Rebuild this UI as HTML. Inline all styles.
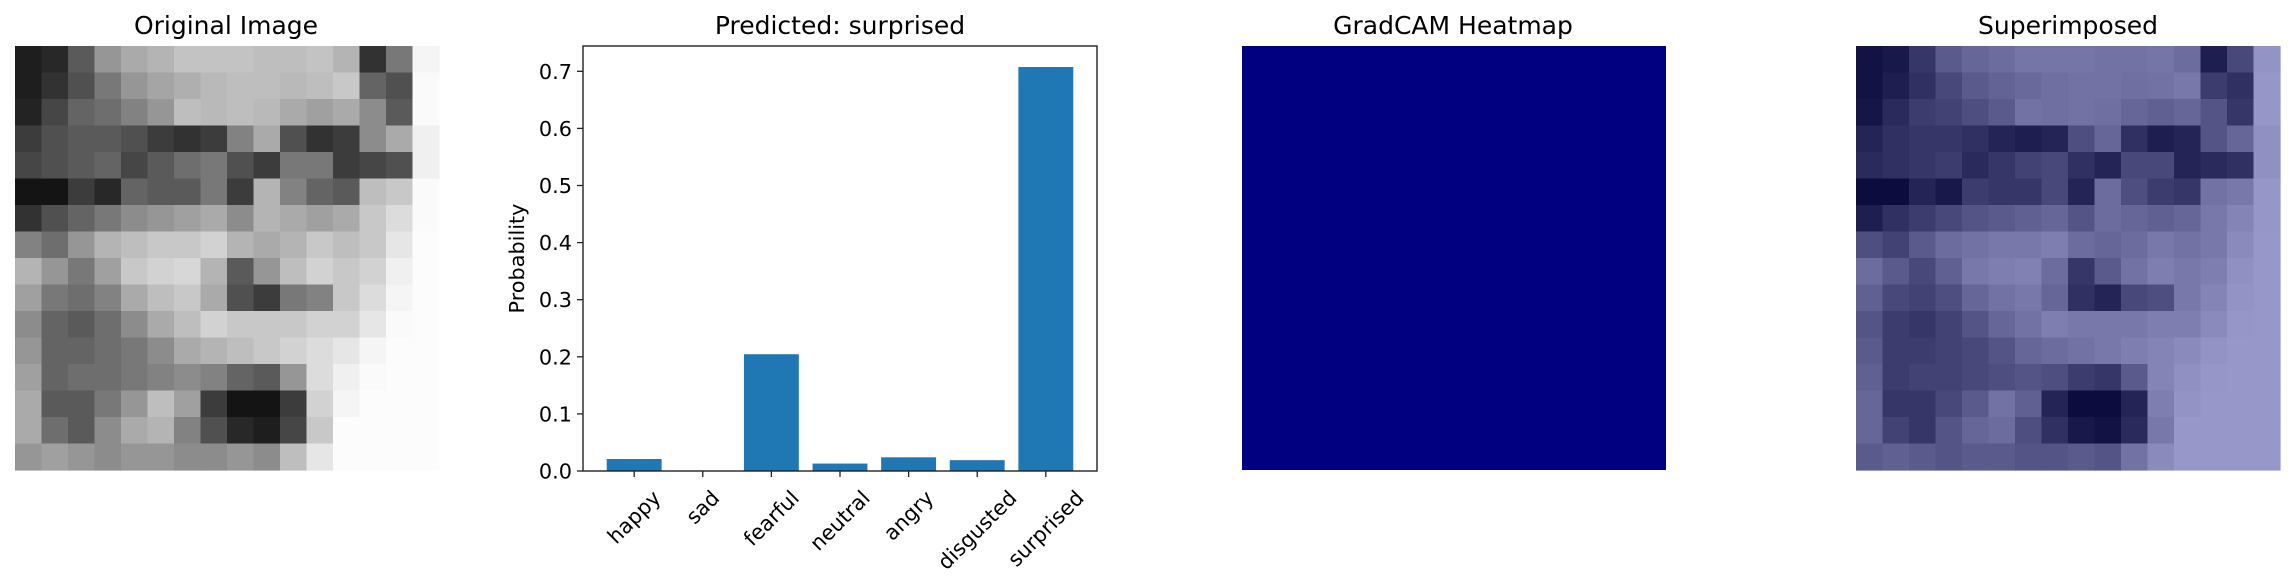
<!DOCTYPE html>
<html><head><meta charset="utf-8"><style>
body{margin:0;background:#fff;}
svg{display:block;font-family:"DejaVu Sans","Liberation Sans",sans-serif;}
</style></head><body>
<svg id="fig" width="2294" height="585" viewBox="0 0 2294 585" xmlns="http://www.w3.org/2000/svg">
<rect width="2294" height="585" fill="#fff"/>
<text x="226" y="34" font-size="25" text-anchor="middle">Original Image</text>
<g id="orig"></g>
<text x="840" y="34" font-size="25" text-anchor="middle">Predicted: surprised</text>
<g id="chart"></g>
<text x="1453" y="34" font-size="25" text-anchor="middle">GradCAM Heatmap</text>
<rect x="1242" y="46" width="424" height="424" fill="#000080"/>
<text x="2068" y="34" font-size="25" text-anchor="middle">Superimposed</text>
<g id="sup"></g>
</svg>
<script>
const categories = ["happy","sad","fearful","neutral","angry","disgusted","surprised"];
const probabilities = [0.021, 0.0003, 0.2045, 0.013, 0.024, 0.019, 0.7075];
const yTicks = [0,0.1,0.2,0.3,0.4,0.5,0.6,0.7];
const yTickLabels = ["0.0","0.1","0.2","0.3","0.4","0.5","0.6","0.7"];
const face = [
[30,40,90,150,170,180,195,195,195,190,190,195,180,50,120,245],
[30,50,80,120,150,165,175,185,190,190,185,190,200,100,80,250],
[35,70,100,110,130,150,190,185,190,185,170,160,170,140,90,250],
[60,80,90,90,80,60,50,60,130,170,80,50,60,140,170,240],
[70,80,90,100,70,90,110,120,80,60,120,120,60,70,80,240],
[20,20,60,40,100,90,90,120,60,180,130,100,90,190,200,250],
[50,80,100,120,140,150,160,170,140,180,170,160,170,200,220,250],
[130,110,150,180,190,200,200,210,180,170,180,200,190,200,230,252],
[180,150,120,160,200,210,215,180,90,150,190,210,200,210,240,252],
[160,120,110,130,170,190,200,170,80,60,120,130,200,220,245,252],
[140,100,90,110,140,170,190,210,200,200,200,210,210,230,250,252],
[150,100,100,110,120,140,170,180,190,200,210,220,230,245,252,252],
[160,100,110,110,120,130,140,130,100,90,150,220,240,250,252,252],
[170,90,90,120,150,190,160,60,20,20,60,210,245,252,252,252],
[170,110,90,140,170,180,130,80,40,30,70,200,252,252,252,252],
[150,160,150,140,150,150,140,140,150,140,190,230,252,252,252,252]
];
const NS="http://www.w3.org/2000/svg";
function mk(tag,attrs,parent){const e=document.createElementNS(NS,tag);for(const k in attrs)e.setAttribute(k,attrs[k]);parent.appendChild(e);return e;}
function drawFace(g,x0,y0,size,tint){
  const n=face.length,c=size/n;
  face.forEach((row,r)=>row.forEach((v,col)=>{
    let R=v,G=v,B=v;
    if(tint){R=Math.round(v*0.6);G=Math.round(v*0.6);B=Math.round(v*0.6+128*0.4);}
    const e=mk('rect',{x:x0+col*c,y:y0+r*c,width:c+0.6,height:c+0.6,fill:`rgb(${R},${G},${B})`},g);
    
    
  }));
}
drawFace(document.getElementById('orig'),15,46,424,false);
drawFace(document.getElementById('sup'),1856,46,424,true);

const g=document.getElementById('chart');
const L=583,R=1097,T=46,B=471;
const xmin=-0.746,xmax=6.746,ymax=(B-T)/571;
const xs=i=>L+(i-xmin)/(xmax-xmin)*(R-L);
const ys=v=>B-v/ymax*(B-T);
const bw=0.8*(R-L)/(xmax-xmin);
probabilities.forEach((p,i)=>{
  const b=mk('rect',{x:xs(i)-bw/2,y:ys(p),width:bw,height:B-ys(p),fill:'#1f77b4'},g);
  
  
});
const frame=mk('rect',{x:L,y:T,width:R-L,height:B-T,fill:'none',stroke:'#222','stroke-width':1.4},g);


yTicks.forEach((v,i)=>{
  const t=mk('line',{x1:L-6,x2:L,y1:ys(v),y2:ys(v),stroke:'#222','stroke-width':1.3},g);
  
  
  const l=mk('text',{x:L-11,y:ys(v)+7.5,'font-size':20.8,'text-anchor':'end'},g);
  l.textContent=yTickLabels[i];
  
  
});
categories.forEach((c,i)=>{
  const x=xs(i);
  const t=mk('line',{x1:x,x2:x,y1:B,y2:B+6,stroke:'#222','stroke-width':1.3},g);
  
  
  const l=mk('text',{x:0,y:0,'font-size':20.8,'text-anchor':'middle'},g);
  l.textContent=c;
  
  
  const w=l.getComputedTextLength();
  const h=(w+20.8)*Math.SQRT1_2;
  const cy=B+16+h/2;
  l.setAttribute('transform',`translate(${x},${cy}) rotate(-45) translate(0,7)`);
});
const yl=mk('text',{x:0,y:0,'font-size':20.8,'text-anchor':'middle',transform:`translate(524,${(T+B)/2}) rotate(-90)`},g);
yl.textContent='Probability';


</script>
</body></html>
